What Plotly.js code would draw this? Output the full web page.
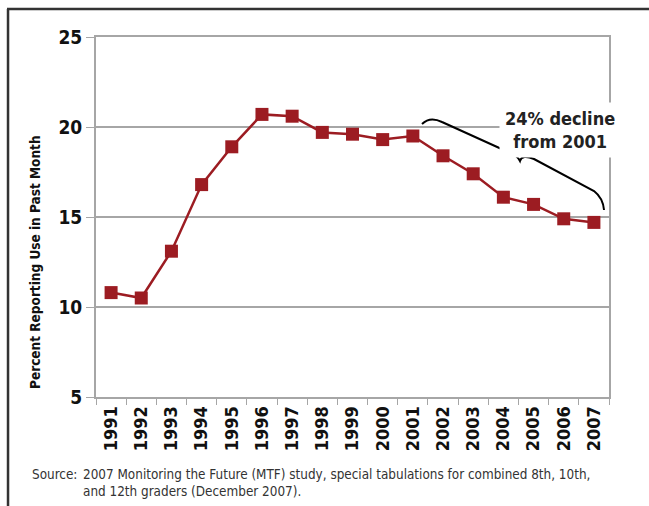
<!DOCTYPE html>
<html>
<head>
<meta charset="utf-8">
<script src="https://cdn.plot.ly/plotly-3.0.1.min.js"></script>
<style>html,body{margin:0;padding:0;background:#fff;}#chart{width:649px;height:506px;}</style>
</head>
<body>
<div id="chart"></div>
<script>
var years = ["1991","1992","1993","1994","1995","1996","1997","1998","1999","2000","2001","2002","2003","2004","2005","2006","2007"];
var percentUse = [10.8, 10.5, 13.1, 16.8, 18.9, 20.7, 20.6, 19.7, 19.6, 19.3, 19.5, 18.4, 17.4, 16.1, 15.7, 14.9, 14.7];
var yTicks = [5, 10, 15, 20, 25];

var FONT = "'Liberation Sans Narrow', 'DejaVu Sans Condensed', 'Arial Narrow', sans-serif";
var W = 649, H = 506, ML = 96, MR = 40, MT = 37, MB = 109;
var PW = W - ML - MR, PH = H - MT - MB;
function px(x) { return ((x - ML) / PW).toFixed(4); }
function py(y) { return ((H - MB - y) / PH).toFixed(4); }
function P(x, y) { return px(x) + ',' + py(y); }

var bracePath =
  'M' + P(422,124) + ' Q' + P(430,116) + ' ' + P(442,122) +
  ' L' + P(506,151) + ' Q' + P(517,155) + ' ' + P(520,161) +
  ' Q' + P(522,154) + ' ' + P(534,159) +
  ' L' + P(594,191) + ' Q' + P(603,198) + ' ' + P(604,210);

var trace = {
  x: years, y: percentUse, type: 'scatter', mode: 'lines+markers',
  line: {color: '#9c1c22', width: 2.5},
  marker: {symbol: 'square', size: 13, color: '#9c1c22'},
  hoverinfo: 'skip'
};

var layout = {
  width: W, height: H,
  margin: {l: ML, r: MR, t: MT, b: MB, pad: 0},
  paper_bgcolor: '#fff', plot_bgcolor: '#fff',
  showlegend: false,
  font: {family: FONT, color: '#1a1a1a'},
  xaxis: {
    type: 'category', range: [-0.5, 16.5],
    tickangle: -90, tickfont: {family: FONT, size: 18, color: '#111', weight: 'bold'},
    ticks: 'outside', ticklen: 6, tickcolor: '#a6a6a6', tickson: 'boundaries',
    showline: true, linecolor: '#a6a6a6', linewidth: 2, mirror: true,
    showgrid: false, zeroline: false, fixedrange: true
  },
  yaxis: {
    range: [5, 25], tickvals: yTicks, ticktext: yTicks.map(String),
    tickfont: {family: FONT, size: 19, color: '#111', weight: 'bold'},
    ticks: 'outside', ticklen: 8, tickcolor: '#a6a6a6',
    showline: true, linecolor: '#a6a6a6', linewidth: 2, mirror: true,
    showgrid: true, gridcolor: '#a6a6a6', gridwidth: 1.5, zeroline: false,
    fixedrange: true
  },
  shapes: [
    {type: 'path', xref: 'paper', yref: 'paper', path: bracePath, line: {color: '#000', width: 2}},
    {type: 'line', xref: 'paper', yref: 'paper', x0: px(7), x1: px(649), y0: py(9), y1: py(9), line: {color: '#333', width: 2.5}},
    {type: 'line', xref: 'paper', yref: 'paper', x0: px(8), x1: px(8), y0: py(9), y1: py(506), line: {color: '#333', width: 2.5}}
  ],
  annotations: [
    {xref: 'paper', yref: 'paper', x: px(35), y: py(262), xanchor: 'center', yanchor: 'middle',
     text: '<b>Percent Reporting Use in Past Month</b>', textangle: -90, showarrow: false,
     font: {family: FONT, size: 13.5, color: '#111'}},
    {xref: 'paper', yref: 'paper', x: px(560), y: py(130), xanchor: 'center', yanchor: 'middle',
     text: '<b>24% decline<br>from 2001</b>', showarrow: false, bgcolor: '#fff', borderpad: 5,
     font: {family: FONT, size: 18, color: '#222'}, align: 'center'},
    {xref: 'paper', yref: 'paper', x: px(30), y: py(465), xanchor: 'left', yanchor: 'top',
     text: 'Source:', showarrow: false, align: 'left',
     font: {family: FONT, size: 13.4, color: '#333'}},
    {xref: 'paper', yref: 'paper', x: px(81), y: py(465), xanchor: 'left', yanchor: 'top',
     text: '2007 Monitoring the Future (MTF) study, special tabulations for combined 8th, 10th,<br>and 12th graders (December 2007).',
     showarrow: false, align: 'left',
     font: {family: FONT, size: 13.4, color: '#333'}}
  ]
};

Plotly.newPlot('chart', [trace], layout, {displayModeBar: false, staticPlot: true});
</script>
</body>
</html>
